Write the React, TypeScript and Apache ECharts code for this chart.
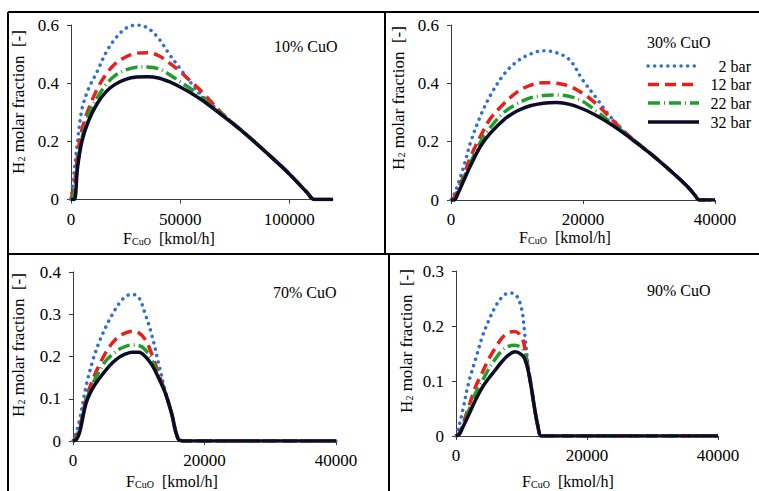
import React, { useEffect, useRef } from "react";
import * as echarts from "echarts";

const seriesNames = ["2 bar", "12 bar", "22 bar", "32 bar"];
const panelTitles = ["10% CuO", "30% CuO", "70% CuO", "90% CuO"];
const xMax = [120000, 40000, 40000, 40000];
const xInterval = [50000, 20000, 20000, 20000];
const yMax = [0.6, 0.6, 0.4, 0.3];
const yInterval = [0.2, 0.2, 0.1, 0.1];

// Panel 1 : 10% CuO
const x1 = [0, 1500, 3000, 5000, 8000, 12000, 16000, 20000, 25000, 30000, 35000, 40000, 45000, 50000, 55000, 60000, 70000, 80000, 90000, 100000, 108000, 111500, 116000, 120000];
const p1Bar2 = [0, 0.1, 0.2, 0.31, 0.38, 0.44, 0.505, 0.55, 0.588, 0.6, 0.59, 0.555, 0.5, 0.45, 0.4, 0.357, 0.29, 0.225, 0.158, 0.088, 0.025, 0, 0, 0];
const p1Bar12 = [0, 0.05, 0.15, 0.24, 0.31, 0.38, 0.43, 0.465, 0.49, 0.503, 0.505, 0.495, 0.47, 0.44, 0.405, 0.37, 0.29, 0.225, 0.158, 0.088, 0.025, 0, 0, 0];
const p1Bar22 = [0, 0.02, 0.12, 0.21, 0.29, 0.35, 0.395, 0.425, 0.445, 0.455, 0.456, 0.45, 0.43, 0.405, 0.38, 0.35, 0.288, 0.225, 0.158, 0.088, 0.025, 0, 0, 0];
const p1Bar32 = [0, 0, 0.11, 0.2, 0.27, 0.33, 0.37, 0.395, 0.413, 0.421, 0.422, 0.418, 0.405, 0.387, 0.366, 0.342, 0.285, 0.225, 0.158, 0.088, 0.025, 0, 0, 0];

// Panel 2 : 30% CuO
const x2 = [0, 500, 1000, 2000, 3000, 4500, 6000, 8000, 10000, 12000, 14000, 16000, 18000, 20000, 22000, 24000, 26000, 28000, 30000, 32000, 34000, 36000, 37000, 37600, 40000];
const p2Bar2 = [0, 0.02, 0.05, 0.12, 0.2, 0.29, 0.36, 0.43, 0.475, 0.5, 0.512, 0.505, 0.48, 0.41, 0.35, 0.29, 0.24, 0.198, 0.163, 0.125, 0.085, 0.042, 0.015, 0, 0];
const p2Bar12 = [0, 0.01, 0.03, 0.09, 0.15, 0.22, 0.28, 0.33, 0.37, 0.393, 0.402, 0.4, 0.39, 0.365, 0.33, 0.285, 0.24, 0.2, 0.163, 0.125, 0.085, 0.042, 0.015, 0, 0];
const p2Bar22 = [0, 0, 0.02, 0.08, 0.13, 0.2, 0.25, 0.3, 0.33, 0.35, 0.358, 0.36, 0.355, 0.338, 0.305, 0.27, 0.235, 0.2, 0.163, 0.125, 0.085, 0.042, 0.015, 0, 0];
const p2Bar32 = [0, 0, 0.02, 0.07, 0.12, 0.185, 0.23, 0.275, 0.305, 0.323, 0.332, 0.334, 0.328, 0.312, 0.29, 0.263, 0.232, 0.198, 0.163, 0.125, 0.085, 0.042, 0.015, 0, 0];

// Panel 3 : 70% CuO
const x3 = [0, 500, 1000, 2000, 3000, 4000, 5000, 6000, 7000, 8000, 9000, 10000, 11000, 12000, 13000, 14000, 15000, 16000, 17000, 20000, 30000, 40000];
const p3Bar2 = [0, 0.02, 0.05, 0.13, 0.19, 0.235, 0.27, 0.3, 0.325, 0.342, 0.347, 0.34, 0.3, 0.25, 0.185, 0.12, 0.065, 0.005, 0, 0, 0, 0];
const p3Bar12 = [0, 0.01, 0.03, 0.1, 0.145, 0.18, 0.21, 0.232, 0.248, 0.256, 0.26, 0.256, 0.24, 0.205, 0.16, 0.117, 0.065, 0.005, 0, 0, 0, 0];
const p3Bar22 = [0, 0.005, 0.025, 0.095, 0.135, 0.165, 0.19, 0.205, 0.217, 0.224, 0.227, 0.226, 0.216, 0.192, 0.155, 0.116, 0.065, 0.005, 0, 0, 0, 0];
const p3Bar32 = [0, 0.003, 0.02, 0.09, 0.125, 0.148, 0.168, 0.185, 0.198, 0.206, 0.21, 0.21, 0.2, 0.18, 0.15, 0.115, 0.065, 0.005, 0, 0, 0, 0];

// Panel 4 : 90% CuO
const x4 = [0, 500, 1000, 2000, 3000, 4000, 5000, 6000, 7000, 8000, 9000, 10000, 10500, 11000, 11500, 12000, 12500, 13000, 14000, 20000, 30000, 40000];
const p4Bar2 = [0, 0.02, 0.045, 0.1, 0.14, 0.18, 0.21, 0.235, 0.252, 0.26, 0.258, 0.232, 0.185, 0.13, 0.09, 0.05, 0.018, 0, 0, 0, 0, 0];
const p4Bar12 = [0, 0.005, 0.02, 0.055, 0.09, 0.115, 0.14, 0.16, 0.178, 0.188, 0.19, 0.18, 0.16, 0.125, 0.088, 0.05, 0.018, 0, 0, 0, 0, 0];
const p4Bar22 = [0, 0.004, 0.017, 0.048, 0.078, 0.1, 0.122, 0.14, 0.155, 0.163, 0.165, 0.16, 0.15, 0.122, 0.088, 0.05, 0.018, 0, 0, 0, 0, 0];
const p4Bar32 = [0, 0.003, 0.015, 0.04, 0.066, 0.088, 0.105, 0.12, 0.135, 0.147, 0.153, 0.148, 0.14, 0.12, 0.088, 0.05, 0.018, 0, 0, 0, 0, 0];

const panelX = [x1, x2, x3, x4];
const panelY = [
  [p1Bar2, p1Bar12, p1Bar22, p1Bar32],
  [p2Bar2, p2Bar12, p2Bar22, p2Bar32],
  [p3Bar2, p3Bar12, p3Bar22, p3Bar32],
  [p4Bar2, p4Bar12, p4Bar22, p4Bar32],
];

const FONT = "Liberation Serif, serif";
const colors = ["#2F6FD4", "#E8201C", "#1E9E2A", "#0C0C28"];
const lineTypes: any[] = [[0.1, 6.5], [11, 6], [12, 4, 1, 4], "solid"];
const lineWidths = [3.5, 3.5, 3.5, 3.5];

const grids = [
  { left: 71, top: 25, width: 262, height: 174.5 },
  { left: 451, top: 25, width: 264, height: 175 },
  { left: 73, top: 272, width: 263, height: 169 },
  { left: 456, top: 271, width: 262, height: 165 },
];
const titlePos = [[274, 46], [647, 42], [273, 292], [647, 290]];
const yNamePos = [[18, 102], [398, 98], [18, 345], [406, 341]];
const xNamePos = [[169, 238], [565, 237], [172, 481], [568, 481]];
const legendRowY = [66, 84.5, 103, 122];

export default function App() {
  const ref = useRef<HTMLDivElement>(null);
  useEffect(() => {
    document.body.style.margin = "0";
    const chart = echarts.init(ref.current!, null, { renderer: "svg" });
    const axisLine = { show: true, lineStyle: { color: "#3a3a3a", width: 1 } };
    const labelStyle = { color: "#000", fontFamily: FONT, fontSize: 17 };
    const series: any[] = [];
    panelY.forEach((ys, p) => {
      ys.forEach((vals, s) => {
        series.push({
          type: "line",
          name: seriesNames[s],
          xAxisIndex: p,
          yAxisIndex: p,
          showSymbol: false,
          symbol: "none",
          smooth: 0.35,
          z: 2 + s,
          data: vals.map((v, i) => [panelX[p][i], v]),
          lineStyle: { color: colors[s], width: lineWidths[s], type: lineTypes[s], cap: s === 0 ? "round" : "butt" },
          itemStyle: { color: colors[s] },
        });
      });
    });
    const graphics: any[] = [];
    const border = { stroke: "#000", lineWidth: 2 };
    graphics.push({ type: "line", shape: { x1: 8, y1: 12, x2: 759, y2: 12 }, style: border });
    graphics.push({ type: "line", shape: { x1: 8, y1: 12, x2: 8, y2: 491 }, style: border });
    graphics.push({ type: "line", shape: { x1: 385, y1: 12, x2: 385, y2: 254 }, style: border });
    graphics.push({ type: "line", shape: { x1: 8, y1: 254, x2: 759, y2: 254 }, style: border });
    graphics.push({ type: "line", shape: { x1: 389, y1: 254, x2: 389, y2: 491 }, style: border });
    const mkRich = (size: number) => ({
      n: { fontSize: size, fontFamily: FONT, fill: "#000" },
      sub: { fontSize: 10, fontFamily: FONT, fill: "#000", verticalAlign: "bottom", padding: [6, 0, 0, 0] },
    });
    for (let p = 0; p < 4; p++) {
      graphics.push({
        type: "text",
        x: titlePos[p][0],
        y: titlePos[p][1],
        style: { text: panelTitles[p], fontSize: 16, fontFamily: FONT, fill: "#000", verticalAlign: "middle" },
      });
      graphics.push({
        type: "text",
        x: yNamePos[p][0],
        y: yNamePos[p][1],
        rotation: Math.PI / 2,
        style: {
          text: "{n|H}{sub|2}{n| molar fraction  [-]}",
          fontSize: 17,
          fontFamily: FONT,
          fill: "#000",
          align: "center",
          verticalAlign: "middle",
          rich: mkRich(17),
        },
      });
      graphics.push({
        type: "text",
        x: xNamePos[p][0],
        y: xNamePos[p][1],
        style: {
          text: "{n|F}{sub|CuO}{n|  [kmol/h]}",
          fontSize: 16,
          fontFamily: FONT,
          fill: "#000",
          align: "center",
          verticalAlign: "middle",
          rich: mkRich(16),
        },
      });
    }
    // legend (panel 2)
    const legendDash: any[] = [[0.1, 6.5], [11, 6], [12, 4, 1, 4], null];
    seriesNames.forEach((n, s) => {
      graphics.push({
        type: "line",
        shape: { x1: 648, y1: legendRowY[s], x2: 699, y2: legendRowY[s] },
        style: {
          stroke: colors[s],
          lineWidth: lineWidths[s],
          lineDash: legendDash[s],
          lineCap: s === 0 ? "round" : "butt",
        },
      });
      graphics.push({
        type: "text",
        x: 751,
        y: legendRowY[s],
        style: { text: n, fontSize: 16, fontFamily: FONT, fill: "#000", align: "right", verticalAlign: "middle" },
      });
    });
    chart.setOption({
      animation: false,
      backgroundColor: "#fff",
      grid: grids.map((g) => ({ ...g, containLabel: false })),
      xAxis: grids.map((_, p) => ({
        type: "value",
        gridIndex: p,
        min: 0,
        max: xMax[p],
        interval: xInterval[p],
        axisLine,
        axisTick: { show: true, length: 4, lineStyle: { color: "#3a3a3a" } },
        splitLine: { show: false },
        axisLabel: { ...labelStyle, margin: 11, formatter: (v: number) => String(v) },
      })),
      yAxis: grids.map((_, p) => ({
        type: "value",
        gridIndex: p,
        min: 0,
        max: yMax[p],
        interval: yInterval[p],
        axisLine,
        axisTick: { show: true, length: 4, lineStyle: { color: "#3a3a3a" } },
        splitLine: { show: false },
        axisLabel: { ...labelStyle, margin: 12, formatter: (v: number) => (v === 0 ? "0" : String(+v.toFixed(2))) },
      })),
      series,
      graphic: graphics,
    });
    return () => chart.dispose();
  }, []);
  return <div ref={ref} style={{ width: 759, height: 491 }} />;
}
